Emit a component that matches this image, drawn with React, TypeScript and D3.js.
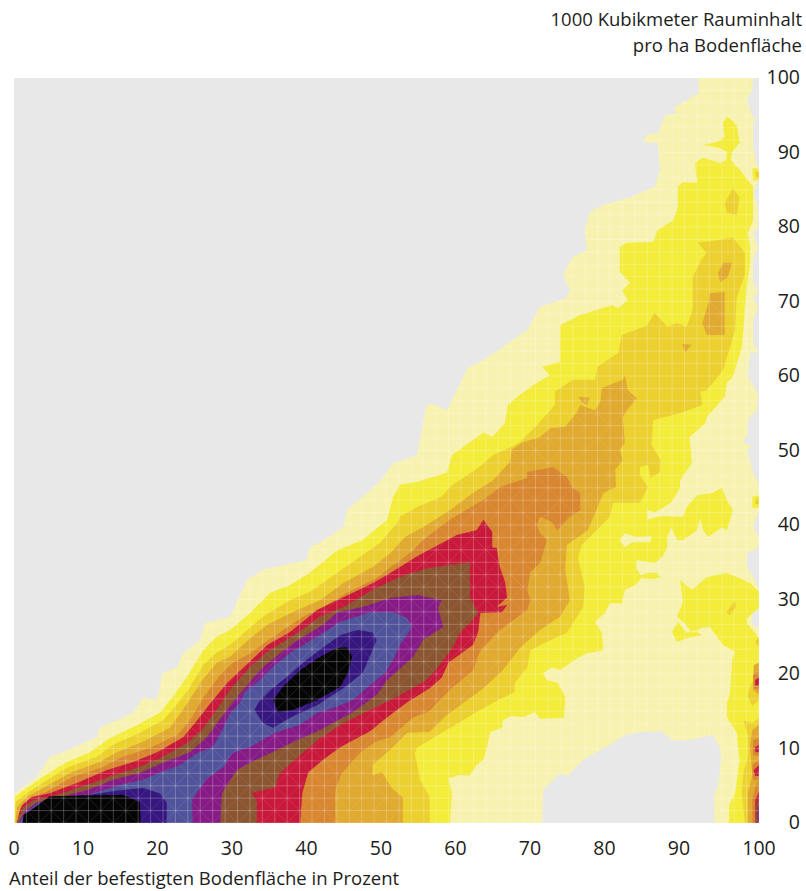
import * as d3 from "d3";

type Ring = [number, number][];

// x = share of sealed ground (%), y = 1000 m3 per ha. Contour outlines, outermost first.
const tickValues = [0, 10, 20, 30, 40, 50, 60, 70, 80, 90, 100];

const paleRings: Ring[] = [
  [[0,0],[0,3.1],[0.1,4],[1.2,4.8],[3.1,6.2],[4.8,8.9],[6.6,9.5],[9.3,10.7],[11.1,11.5],[11.5,12.8],[16,14.8],[17.3,16.8],[19.2,16.5],[19.9,20.1],[21.9,20.9],[22.7,22.8],[25,24.6],[25.6,26.8],[29,27.7],[31.3,32.6],[33.4,34],[39.3,35.3],[39.7,37],[41.1,37.7],[44.2,39.7],[44.7,42],[49.1,45.8],[50.9,48.3],[54.1,49.4],[54.8,53.2],[55.4,56.1],[56.2,56.2],[58.1,55.4],[60.9,61.1],[62.6,61.9],[64.6,63.2],[68.9,66.2],[70.6,69.3],[74.2,70.5],[74.6,71.5],[73.7,73.6],[75,76],[76.9,76.9],[76.6,79.6],[77.3,82],[79.1,83],[82.7,84],[86,85.4],[86.7,87.7],[86.4,91.3],[84.4,91.4],[85,92.4],[86.4,92.6],[87.4,95],[89,95.3],[88.5,96],[91.9,98],[91.9,100],[99.2,100],[99.1,98.4],[98.4,97.1],[99.2,94.6],[100,94.8],[99.2,94.1],[99.2,90.7],[99.9,87.7],[99.7,85.4],[99.2,84.6],[99.9,82.7],[99.9,80],[99.2,79.2],[99.9,77.2],[99.2,75.6],[99.2,72.5],[99.9,71.3],[99.2,70.5],[99.9,69.3],[99.2,67.5],[99.2,64.4],[99.9,63.2],[98.8,63.1],[98.5,59.9],[99.9,57.5],[99.7,55.4],[98.5,54.1],[98.5,52.3],[97.9,51.1],[99.1,50.5],[98.4,50.1],[99.2,47],[100,45.4],[100,42],[99.2,39.7],[100,38.4],[100,37],[98.4,36.2],[98.4,34.4],[99.7,32.2],[100,31.3],[100,28.6],[99.1,28.3],[99.1,26.6],[100,26.2],[100,0],[94,0],[94,4],[94.5,4.8],[94.9,8.5],[94.8,10.1],[93.8,11.8],[90.7,11.1],[88.3,11.1],[87,12.3],[84,12.2],[82,11.8],[80,10.5],[78,9.4],[76.4,8.5],[74.2,6.2],[73.3,6.7],[71,4.4],[70.9,0]],
];

const yellowRings: Ring[] = [
  [[0.2,0],[0.1,3.5],[1.7,4.7],[3.9,6.2],[7.1,8.2],[10.2,9.5],[12.9,11.4],[16,12.9],[19.6,14.8],[21.3,16.9],[23.2,19.6],[25.4,23.2],[27.2,25],[29,25.9],[31.7,28.2],[34.4,30.9],[37,31.9],[39.7,33.6],[43.4,36.6],[46.8,38],[50.1,40.7],[50.9,43.8],[51.8,45.4],[54.2,45.8],[58.1,47],[58.8,49.4],[63,52.4],[64.2,51.8],[65.9,53.7],[66.3,56.1],[67.9,57.5],[70.2,59.1],[71.9,60.1],[70.9,61.2],[73.3,61.9],[73.3,64.8],[73.3,66.8],[76,68.2],[80.3,69.5],[81.1,69.1],[82.4,70.2],[81.6,71.5],[82.7,72.5],[81.3,74],[81.3,77.3],[82.3,77.9],[85.8,78],[86.4,79.6],[88.5,80.9],[89.1,82.6],[89.1,85.4],[89.8,86],[91.7,85.9],[91.4,88.6],[92.5,89.3],[94.8,88.6],[95.6,89],[95.7,90.1],[94.4,90.7],[92.5,91],[94.4,91.4],[95.4,92.1],[95.2,93.4],[95.2,94.1],[95.8,94.8],[97,93.7],[97.4,91.3],[96.4,90.1],[96.2,89],[97.4,87.7],[99.2,85.4],[99.2,80.9],[98.5,79.2],[98.8,77.3],[98.8,75.2],[98.4,72],[98.1,69.3],[97.9,66.2],[97.7,63.9],[96.5,59.9],[95.7,59.1],[95.4,57.2],[93,54.5],[92.8,53.7],[90.7,51.8],[90.7,51.4],[91,48.3],[89.4,46],[89.4,45],[88.3,43.1],[86.8,42.1],[86,41.7],[85,42],[85,40.7],[86.3,41.1],[87.8,41.2],[88.5,41.1],[89.8,41.1],[90.3,42.4],[91.7,44],[93.8,44.3],[95,45],[95.8,43.1],[96.5,42],[95.7,39.3],[95,39.7],[93.2,38.4],[92.5,39.3],[92.1,40.9],[91.7,39.3],[89.8,38],[89,38],[88.2,39.7],[87.7,38.4],[87.7,37],[87,35.7],[86,34.9],[83.6,35.3],[83.5,34.2],[84.3,33],[83.4,31.9],[82,31.3],[81.6,29.5],[80,29.5],[79.3,28.2],[78,27],[78.9,25.5],[79.1,23.2],[76.9,22.8],[75.6,22.1],[73.3,20.5],[72.2,20.9],[71,20.1],[71.5,19.2],[73,18.8],[74,16.9],[73.8,14.1],[70.6,14],[69.9,14.9],[68.3,14.2],[66.8,14.4],[65.6,13.8],[65.5,12.8],[63.9,12.2],[63.5,10.2],[63,8.5],[62.1,7.8],[61.2,6.4],[59.6,6.4],[58.3,6],[58.8,4],[58.5,0]],
  [[84,33.2],[85,33.6],[86.3,33.6],[86.8,33],[86,32.8],[84.7,32.8]],
  [[89.4,32.6],[91,31.3],[93,33],[95.7,33.6],[98.8,32.2],[100,31],[100,28.9],[98.4,27.5],[98.4,26.8],[100,24.8],[100,0],[96,0],[96,2.4],[96.8,4],[97.4,8.5],[97,12.1],[95.7,14.2],[95.7,16.1],[96.1,17.4],[96.4,21.9],[96.8,23],[95.2,23.9],[93.4,26.3],[92.3,26.2],[91.1,25.5],[89.8,27],[89,27.7],[89.8,29.7]],
  [[89.1,27],[88.3,25.6],[89,24.3],[90.3,24.8],[92.3,25.2],[91.4,25.9],[90.3,25.5]],
  [[99.1,87.9],[99.9,87.9],[100,86.3],[99.2,86.2]],
  [[99.1,43.8],[100,44],[100,42.3],[99.1,42.3]],
];

// pale gap that sits inside the yellow band
const paleGapRings: Ring[] = [
  [[81.3,38],[82,38.9],[83.4,38.4],[85.6,38.5],[85.4,37.7],[83,37.7],[82,37]],
];

const goldRings: Ring[] = [
  [[0.1,0],[0.2,2.8],[1.7,4],[3.9,5.4],[7.1,7.4],[11.1,8.9],[13.3,10.5],[16.9,12.1],[20,13.8],[21.3,15.2],[23.4,17.9],[25.4,21.2],[27.2,22.9],[29,23.9],[33.4,27.7],[37,29.9],[39.7,31],[43.4,33.6],[46.4,35.7],[49.1,37.6],[51.5,40.3],[51.8,41.1],[54.1,42.4],[57.4,43.8],[58.5,45.1],[62.6,47.9],[64.3,49.4],[66.8,50.5],[67.9,51.1],[70.2,53.4],[72.6,56.1],[72.6,57.9],[75,59.5],[78,59.5],[78.3,61.2],[79.6,62.1],[81.1,63.1],[81.6,65.5],[85,66.8],[86,68.5],[87.7,66.6],[89,67.1],[90.3,66.6],[91.1,68.9],[91.1,73.3],[92.4,75.8],[93,76.5],[91.8,77.9],[94.8,78.3],[96.5,78.6],[98.1,76.5],[98.1,73.6],[97,70.5],[96.8,66.2],[95.2,60.8],[93,58.1],[92.1,57.9],[92.4,56.1],[89.4,55],[87,54.4],[85.8,54.1],[85.6,50.7],[86.8,48.7],[86.7,47.1],[85.4,46.3],[85.1,48.1],[84,47.8],[84,46.7],[85.1,45.1],[84,43],[80.4,43],[80,41.1],[76.2,37.3],[75.7,35.6],[76.6,31.7],[76.4,29],[74.2,25.5],[72.9,25],[69.3,23.2],[68.9,20.9],[67.2,18.8],[67.2,17.6],[65,16.5],[62.6,15.2],[60.3,13.8],[57.6,12.2],[54.1,10.1],[53.8,9.4],[54.5,5.8],[55.8,3.5],[55.8,0]],
  [[95.4,83.2],[96.5,85.2],[97.4,84],[97,81.6],[95.7,81.9]],
  [[98.1,0],[97.7,4],[97.9,6.7],[98.5,8.9],[98.5,11.8],[97.9,13.8],[99.1,13.4],[100,14.1],[100,0]],
  [[95.6,28.3],[96.8,29.8],[96.9,29],[96.1,27.9]],
  [[99.5,87.4],[100,87.4],[100,86.6],[99.6,86.6]],
  [[99.5,43.5],[100,43.6],[100,42.8],[99.5,42.8]],
  [[100,20.3],[98.8,18.4],[98.5,17],[99.1,15.7],[100,16.5]],
  [[99.5,24.3],[100,25],[100,23.6]],
];

const ochreRings: Ring[] = [
  [[0.2,0],[0.4,2.1],[1.7,3.5],[3.9,4.7],[7.5,6.7],[11.5,8.2],[13.8,9.5],[17.3,10.9],[20.9,12.8],[22.7,15.2],[25,18.8],[27.2,21.5],[29,22.3],[31.7,24.8],[34,26.6],[38,28.6],[41.1,29.9],[44.2,32.2],[48.2,34.4],[50.5,36.2],[52.5,38.4],[54.9,39.7],[58.1,41.7],[61.6,44.3],[64.3,46],[66.6,48.5],[66.8,50.1],[68.3,51.1],[70.6,51.8],[72,53],[74,53.2],[75.6,55.2],[76,56.1],[78,55.4],[78.7,56.5],[78.9,58.4],[81.7,59.5],[82,60.1],[82.4,58.1],[83.6,57],[82.3,55.4],[81.7,54.5],[82,51],[81.3,50.1],[81.7,48.7],[80.7,47.4],[80.8,45.1],[79.1,44.3],[78,41.6],[77,39.3],[74.2,37.3],[74,34],[74.6,29.9],[73.3,27.7],[70.6,25.9],[67.9,23.5],[65.6,20.5],[63,18.1],[60.3,16.1],[58.1,14.5],[55.8,12.2],[52.8,12.1],[50.1,9.5],[48.1,7.8],[48.1,6.4],[49.4,6.8],[50.7,4.7],[52.2,3.4],[52.2,0]],
  [[94.5,73.8],[95.2,75.2],[96.4,75.2],[95.8,73.3],[94.8,72.6]],
  [[93.4,71.1],[95.4,71.3],[95.4,65.5],[93,65.5],[92.4,67.1],[93.2,69.8]],
  [[89.7,64.3],[91,64.2],[90.1,63.2]],
  [[75.7,57.2],[77.3,57.1],[76.9,56.1],[76.2,56.5]],
  [[98.5,0],[98.5,4],[99.1,6.4],[98.8,10.5],[99.1,12.5],[100,13.2],[100,0]],
  [[99.3,21.2],[100,21.5],[100,17.2],[99.2,17.9]],
];

const orangeRings: Ring[] = [
  [[0.3,0],[0.8,1.7],[2.1,3.4],[4.4,4.2],[7.9,6.2],[11.9,7.5],[14.6,8.9],[18.3,10.1],[21.9,11.8],[23.9,14.2],[25.4,16.8],[27.7,19.9],[29.4,21.5],[31.7,22.8],[34.8,25],[38.8,27.7],[42,29.3],[44.7,30.9],[48.7,32.9],[50.9,34.6],[53.6,36.6],[54.9,38],[58.5,40.7],[63,43.4],[65.2,45.1],[68.9,46.3],[68.9,47.1],[72.4,47.8],[74.2,46.4],[74.9,45.1],[76,44.3],[76,42],[74.6,41.1],[72.9,39.3],[72.2,40.4],[70.6,41.1],[70.2,40],[70.6,38.9],[71.5,38],[70.6,34.9],[69.3,33.7],[68.9,31.3],[69.3,29.9],[68.9,28.6],[65.2,25.9],[62.6,23.2],[61.6,20.5],[58.5,17.9],[55.6,14.9],[53.6,14.2],[50.5,11.5],[48.5,10.9],[46.4,9.4],[44,6.7],[43.1,4.4],[43.1,0]],
  [[99.1,0],[99.1,3.1],[99.5,4.8],[100,5.8],[100,0]],
  [[99.1,7.8],[100,8.5],[100,5.8],[99.2,5.8]],
  [[99.2,11.1],[100,11.4],[100,9],[99.2,9.1]],
  [[99.2,19.9],[100,20.3],[100,17.9],[99.3,18.1]],
];

const redRings: Ring[] = [
  [[0.4,0],[0.8,1.7],[1.1,2.4],[2.4,3.5],[4.8,4],[8.5,5.4],[12.5,7.1],[16,8.2],[19.2,9.5],[22.7,11.5],[24.6,13.8],[26.7,16.5],[28.6,18.8],[32.1,22.1],[34,23.9],[37,25.6],[40.7,28.6],[43.8,30.1],[48.2,32.2],[50.9,33.8],[54.1,35.8],[59.5,38.7],[62.1,39.3],[63,40.7],[64.2,39.1],[64.2,37],[64.8,36.9],[65.2,34.4],[65.9,32.4],[66.2,30.3],[64.8,29],[66.2,29.3],[65.5,28.3],[62.6,28.2],[62.3,25.6],[61.6,23.9],[58.3,21.5],[57.4,19.5],[55.8,18.1],[52.8,16.2],[50.1,14.2],[47.8,12.3],[44,10.3],[41.5,8.5],[39.5,6.8],[38.7,4],[38.4,0]],
  [[99.5,0],[99.5,3.1],[100,4.2],[100,0]],
  [[99.3,7.1],[100,7.8],[100,6.3],[99.5,6.3]],
  [[99.5,10.2],[100,10.5],[100,9.5],[99.5,9.5]],
  [[99.5,19.2],[100,19.5],[100,18.5],[99.5,18.5]],
];

const brownRings: Ring[] = [
  [[0.5,0],[0.5,0.4],[1.2,2.1],[2.6,3.1],[4.8,3.5],[8.9,4.8],[12.9,6.2],[16.5,7.4],[19.6,8.7],[23.2,10.7],[25.2,12.5],[27.2,15.2],[29,17.9],[31.7,21],[34,23],[38,25.5],[41.1,27.7],[44.2,29],[48.2,31.3],[51.4,32.9],[55.4,34.2],[61.2,35],[61.2,30.3],[62.3,28.2],[61.2,26.8],[59.9,25.6],[58.9,23.6],[56.9,20.9],[55.4,19.2],[51.4,16.9],[47.8,15.2],[44.2,13.4],[41.1,11.4],[38.4,9.1],[35.7,6.7],[35,4.8],[31.9,4],[32.6,3.1],[32.6,0]],
  [[99.6,0],[99.6,2.4],[100,3.1],[100,0]],
];

const purpleRings: Ring[] = [
  [[0.5,0],[0.8,0.4],[1.5,1.7],[3.1,2.8],[5.8,3.4],[9.8,4.4],[13.3,5.8],[16.9,6.7],[20,8.1],[23.6,9.5],[25.9,11.5],[29,15.8],[31.3,18.5],[33.4,20.9],[37.5,24.2],[41.5,26.6],[43.4,28.3],[46.8,29],[50.5,30.2],[54.1,30.6],[57.4,29.9],[56.9,28.9],[57.6,26.3],[54.9,24.6],[53.6,22.3],[50.1,19.2],[48.7,17.2],[45.4,14.8],[41.1,12.5],[38,11.1],[35.3,9.8],[31.9,8.2],[29.9,7.1],[27.9,4],[27.7,0]],
  [[99.8,0],[99.8,2],[100,2.4],[100,0]],
];

const blueRings: Ring[] = [
  [[0.7,0],[0.9,0.4],[1.7,1.5],[3.2,2.7],[6.2,3.1],[10.6,4],[14.2,5.1],[17.3,5.8],[19.6,6.8],[22.3,7.8],[24.6,9.4],[26.7,10.2],[28.1,12.8],[29,14.8],[30.3,16.1],[31,17.6],[33,19.2],[35,21.2],[37.3,23],[41.5,25.5],[43.8,27],[47.8,28.3],[50.9,28.3],[52.8,27.5],[53.4,26.2],[51.8,23.9],[50.9,21.9],[49.8,20.1],[47.8,18.5],[45.5,16.5],[42.8,15.4],[40.7,14.8],[38.4,13.2],[35,12.1],[31.7,10.2],[29.3,9.4],[28.1,7.5],[25.9,6],[23.9,3.1],[24,0]],
];

const indigoRings: Ring[] = [
  [[32.3,15.2],[33.4,13.4],[34.8,12.8],[37,14.1],[40.7,15.8],[44.2,18.1],[46.8,20.1],[48.1,23.2],[48.7,24.6],[48.1,25.6],[46,25.9],[43.8,25.2],[41.5,23.6],[39.3,21.9],[36.6,19.6],[34.4,17.9],[32.8,16.2]],
  [[1.1,0],[1.3,1],[1.7,1.2],[3.5,2.3],[4.8,3.4],[10.2,3.8],[14.2,4.4],[17.3,4.7],[19.6,4],[20.5,2.8],[20.5,0]],
];

const blackRings: Ring[] = [
  [[34.8,16.5],[35.4,14.9],[37.5,15.2],[40.7,16.5],[43.8,18.3],[44.8,20.1],[45.4,22.3],[44.7,23.6],[43.4,23.5],[41.1,22.3],[38.4,20.5],[36.1,18.3]],
  [[1.2,0],[1.3,1.1],[2.8,2.1],[4.8,3.6],[14.6,3.8],[16.9,2.8],[17,0]],
];

const levelColors = ["#f7f2b0", "#f3ec3a", "#ecd02f", "#e0a92f", "#d8862f", "#c8193a", "#8a5530", "#861b86", "#51539a", "#36167f", "#050505"];
const levelRings = [paleRings, yellowRings, goldRings, ochreRings, orangeRings, redRings, brownRings, purpleRings, blueRings, indigoRings, blackRings];

const meshCells = 60;

export default function App() {
  const x = d3.scaleLinear().domain([0, 100]).range([14, 759]);
  const y = d3.scaleLinear().domain([0, 100]).range([823, 78]);
  const line = d3
    .line<[number, number]>()
    .x((d) => x(d[0]))
    .y((d) => y(d[1]))
    .curve(d3.curveLinearClosed);
  const mesh = d3.range(0, meshCells + 1).map((i) => (i * 100) / meshCells);
  // the triangulation shows as diagonals where the surface is steep
  const diagonals = d3.range(-meshCells, meshCells + 1, 2).map((i) => (i * 100) / meshCells);
  const ringsPath = (rings: Ring[]) => rings.map((r) => line(r)).join("");

  const font = { fontFamily: "'Open Sans', sans-serif", fill: "#1d1d1b" };
  // inner x labels sit a little left of their tick in the original
  const xLabelPos = (t: number) => (t === 0 || t === 100 ? x(t) : x(t) - 5.5);

  return (
    <svg width={806} height={891} style={{ position: "absolute", left: 0, top: 0 }}>
      <defs>
        <clipPath id="contourArea">
          <path d={ringsPath(paleRings)} />
          <path d={ringsPath(yellowRings)} />
        </clipPath>
        <clipPath id="denseArea">
          <path d={ringsPath(ochreRings)} />
        </clipPath>
      </defs>
      <rect x={x(0)} y={y(100)} width={x(100) - x(0)} height={y(0) - y(100)} fill="#e8e8e8" />
      {levelRings.map((rings, i) => (
        <g key={i}>
          <path d={ringsPath(rings)} fill={levelColors[i]} />
          {i === 1 && <path d={ringsPath(paleGapRings)} fill={levelColors[0]} />}
        </g>
      ))}
      <g clipPath="url(#contourArea)" stroke="#fff" strokeOpacity={0.24} strokeWidth={1}>
        {mesh.map((m) => (
          <line key={"v" + m} x1={x(m)} x2={x(m)} y1={y(0)} y2={y(100)} />
        ))}
        {mesh.map((m) => (
          <line key={"h" + m} x1={x(0)} x2={x(100)} y1={y(m)} y2={y(m)} />
        ))}
      </g>
      <g clipPath="url(#denseArea)" stroke="#fff" strokeOpacity={0.1} strokeWidth={1}>
        {diagonals.map((d) => (
          <line key={"a" + d} x1={x(d)} x2={x(d + 100)} y1={y(0)} y2={y(100)} />
        ))}
        {diagonals.map((d) => (
          <line key={"b" + d} x1={x(d)} x2={x(d + 100)} y1={y(100)} y2={y(0)} />
        ))}
      </g>
      <g {...font} fontSize={18.5}>
        <text x={802} y={26} textAnchor="end">1000 Kubikmeter Rauminhalt</text>
        <text x={802} y={52} textAnchor="end">pro ha Bodenfläche</text>
        <text x={9} y={885}>Anteil der befestigten Bodenfläche in Prozent</text>
      </g>
      <g {...font} fontSize={19.5}>
        {tickValues.map((t) => (
          <text key={"x" + t} x={xLabelPos(t)} y={855} textAnchor="middle">{t}</text>
        ))}
        {tickValues.map((t) => (
          <text key={"y" + t} x={800} y={y(t) + 6} textAnchor="end">{t}</text>
        ))}
      </g>
    </svg>
  );
}
